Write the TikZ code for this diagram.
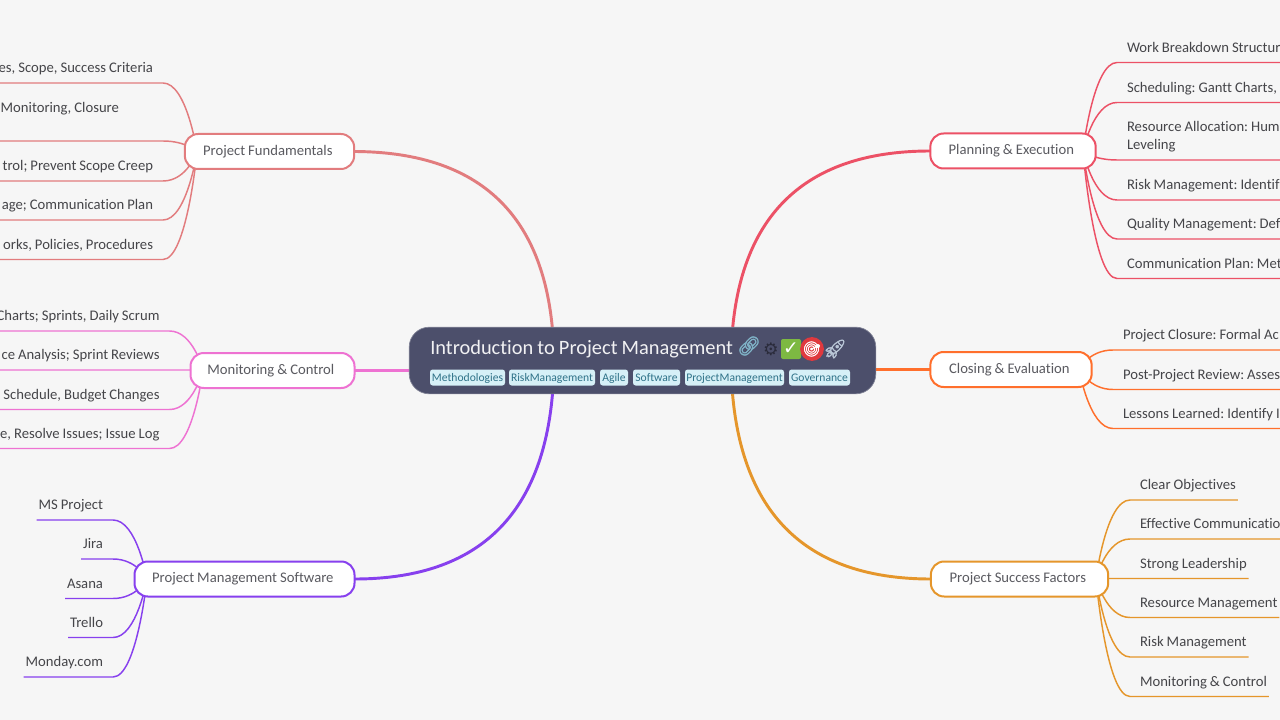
\documentclass[tikz,border=0pt]{standalone}
\usepackage{fontspec}
\setmainfont[Ligatures=NoCommon,WordSpace=0.9]{Carlito}
\newfontfamily\emojifont[FakeBold=2]{Noto Emoji}
\newfontfamily\dejavu{DejaVu Sans}
\usetikzlibrary{backgrounds,calc}
\definecolor{pagebg}{HTML}{F6F6F6}
\definecolor{rootfill}{HTML}{4C4F6B}
\definecolor{tagfill}{HTML}{D6F0F7}
\definecolor{tagtext}{HTML}{2F7288}
\definecolor{inktext}{HTML}{454549}
\definecolor{boxtext}{HTML}{5A5A60}
\definecolor{fundcol}{HTML}{E27C7E}
\definecolor{plancol}{HTML}{EC5166}
\definecolor{closecol}{HTML}{FF6F2C}
\definecolor{succcol}{HTML}{E5962B}
\definecolor{softcol}{HTML}{8740EE}
\definecolor{moncol}{HTML}{EE72D2}
\definecolor{linkcol}{HTML}{7FB2C6}
\definecolor{checkcol}{HTML}{7DB942}
\definecolor{targetcol}{HTML}{E0393E}
\definecolor{rocketcol}{HTML}{B9C6D6}
\tikzset{
  textfont/.style={font=\frenchspacing\fontsize{11}{13.5}\selectfont},
  branchbox/.style={draw=#1, line width=1.5pt, fill=white, rounded corners=10pt, text=boxtext,
    textfont, minimum height=26.25pt, inner sep=0pt, outer sep=0pt, execute at begin node=\strut,
    execute at end node=\hspace*{2.5pt}},
  leafleft/.style={anchor=south east, textfont, text=inktext, inner xsep=0pt, inner ysep=3.7pt,
    outer sep=0pt, align=right, execute at begin node=\strut},
  leafright/.style={anchor=south west, textfont, text=inktext, inner xsep=0pt, inner ysep=3.7pt,
    outer sep=0pt, align=left, execute at begin node=\strut},
  tagbox/.style={fill=tagfill, text=tagtext, rounded corners=2pt, font=\fontsize{8.7}{10}\selectfont,
    inner sep=0pt, minimum height=12pt, text height=7.4pt, text depth=1.2pt, outer sep=0pt},
  emoji/.style={font=\emojifont\fontsize{14}{15}\selectfont, inner sep=0pt},
  mainline/.style={draw=#1, line width=2.2pt},
  subline/.style={draw=#1, line width=1.1pt},
  leaflink/.style={to path={.. controls (\tikztostart) and ($(\tikztotarget)!0.7!(\tikztostart |- \tikztotarget)$) .. (\tikztotarget)}}
}
\begin{document}
\begin{tikzpicture}[x=0.75pt,y=-0.75pt]
\useasboundingbox (0,0) rectangle (1280,720);
\coordinate (edgeL) at (0,0);
\coordinate (edgeR) at (1280,0);
% centre
\node[fill=rootfill, draw=rootfill!70!white, line width=0.5pt, rounded corners=15pt, minimum width=350pt, minimum height=50pt, inner sep=0pt] (root) at (642.5,360.5) {};
\node[anchor=west, text=white!92!rootfill, font=\fontsize{15.3}{18}\selectfont, inner sep=0pt] (title) at (430,349) {Introduction to Project Management};
\node[emoji, text=linkcol] (link) at (749,346) {🔗};
\node[inner sep=0pt, text=black!45!rootfill, font=\dejavu\fontsize{13}{14}\selectfont] (gear) at (771,349) {⚙};
\node[fill=checkcol, text=white, rounded corners=1.5pt, minimum size=15pt, inner sep=0pt, font=\dejavu\bfseries\fontsize{14}{14}\selectfont] (check) at (791,349) {✓};
\node[emoji, circle, fill=targetcol, text=white, minimum size=14pt, font=\emojifont\fontsize{11}{12}\selectfont] (target) at (812,349) {🎯};
\node[emoji, text=rocketcol] (rocket) at (835,349) {🚀};
\node[tagbox, minimum width=56.25pt] (tag1) at (467.5,377.5) {Methodologies};
\node[tagbox, minimum width=64.5pt] (tag2) at (552,377.5) {RiskManagement};
\node[tagbox, minimum width=21pt] (tag3) at (614,377.5) {Agile};
\node[tagbox, minimum width=35.25pt] (tag4) at (656.5,377.5) {Software};
\node[tagbox, minimum width=74.25pt] (tag5) at (734.5,377.5) {ProjectManagement};
\node[tagbox, minimum width=45.75pt] (tag6) at (819.5,377.5) {Governance};
% branches
\node[branchbox=fundcol, minimum width=127pt] (fund) at (269.5,151.5) {Project Fundamentals};
\node[branchbox=moncol, minimum width=123pt] (mon) at (272.5,370.5) {Monitoring \& Control};
\node[branchbox=softcol, minimum width=165pt] (soft) at (244.5,579) {Project Management Software};
\node[branchbox=plancol, minimum width=124pt] (plan) at (1013,151) {Planning \& Execution};
\node[branchbox=closecol, minimum width=121pt] (close) at (1011,369.5) {Closing \& Evaluation};
\node[branchbox=succcol, minimum width=133pt] (succ) at (1019.5,579) {Project Success Factors};
% leaves, left
\node[leafleft] (fund1) at (153,83) {es, Scope, Success Criteria};
\node[leafleft] (fund2) at (119,141) {Monitoring, Closure\\\strut};
\node[leafleft] (fund3) at (153,181) {trol; Prevent Scope Creep};
\node[leafleft] (fund4) at (153,220) {age; Communication Plan};
\node[leafleft] (fund5) at (153,259.5) {orks, Policies, Procedures};
\node[leafleft] (mon1) at (159.5,331) {Charts; Sprints, Daily Scrum};
\node[leafleft] (mon2) at (159.5,370) {ce Analysis; Sprint Reviews};
\node[leafleft] (mon3) at (159.5,409.5) {Schedule, Budget Changes};
\node[leafleft] (mon4) at (159.5,448.5) {e, Resolve Issues; Issue Log};
\node[leafleft] (soft1) at (103,520) {MS Project};
\node[leafleft] (soft2) at (103,559) {Jira};
\node[leafleft] (soft3) at (103,598.5) {Asana};
\node[leafleft] (soft4) at (103,637.5) {Trello};
\node[leafleft] (soft5) at (103,677) {Monday.com};
% leaves, right
\node[leafright] (plan1) at (1127,62.5) {Work Breakdown Structur};
\node[leafright] (plan2) at (1127,102.5) {Scheduling: Gantt Charts,};
\node[leafright] (plan3) at (1127,160) {Resource Allocation: Hum\\Leveling\strut};
\node[leafright] (plan4) at (1127,200) {Risk Management: Identif};
\node[leafright] (plan5) at (1127,239) {Quality Management: Def};
\node[leafright] (plan6) at (1127,278.5) {Communication Plan: Met};
\node[leafright] (close1) at (1123,350) {Project Closure: Formal Ac};
\node[leafright] (close2) at (1123,389.5) {Post-Project Review: Asses};
\node[leafright] (close3) at (1123,428.5) {Lessons Learned: Identify I};
\node[leafright] (succ1) at (1140,500) {Clear Objectives};
\node[leafright] (succ2) at (1140,539) {Effective Communicatio};
\node[leafright] (succ3) at (1140,578.5) {Strong Leadership};
\node[leafright] (succ4) at (1140,617.5) {Resource Management};
\node[leafright] (succ5) at (1140,657) {Risk Management};
\node[leafright] (succ6) at (1140,696.5) {Monitoring \& Control};
% where the branches leave their boxes
\coordinate (fundsrc) at (197,152);
\coordinate (monsrc) at (203,370);
\coordinate (softsrc) at (147,579);
\coordinate (plansrc) at (1083,151);
\coordinate (closesrc) at (1079,369);
\coordinate (succsrc) at (1096,578.5);
\coordinate (rootnw) at (554,361);
\coordinate (rootne) at (731,361);
\coordinate (rootsw) at (554,361);
\coordinate (rootse) at (731,361);
\begin{scope}[on background layer]
\fill[pagebg] (0,0) rectangle (1280,720);
\draw[mainline=fundcol] (rootnw) .. controls (552.7,221.7) and (486.3,152) .. (fund.east);
\draw[mainline=plancol] (rootne) .. controls (732.3,221) and (799.3,151) .. (plan.west);
\draw[mainline=softcol] (rootsw) .. controls (552.7,506.3) and (486.3,579) .. (soft.east);
\draw[mainline=succcol] (rootse) .. controls (732.3,506.3) and (799.3,579) .. (succ.west);
\draw[mainline=moncol] (root.west |- mon.east) -- (mon.east);
\draw[mainline=closecol] (root.east |- close.west) -- (close.west);
\foreach \n in {1,...,5}
  \draw[subline=fundcol] (fundsrc) to[leaflink] (153+10,0 |- fund\n.south) -- (edgeL |- fund\n.south);
\foreach \n in {1,...,4}
  \draw[subline=moncol] (monsrc) to[leaflink] (159.5+10,0 |- mon\n.south) -- (edgeL |- mon\n.south);
\foreach \n in {1,...,5}
  \draw[subline=softcol] (softsrc) to[leaflink] ([xshift=7.5pt]soft\n.south east) -- ([xshift=-1.5pt]soft\n.south west);
\foreach \n in {1,...,6}
  \draw[subline=plancol] (plansrc) to[leaflink] ([xshift=-7.5pt]plan\n.south west) -- (edgeR |- plan\n.south);
\foreach \n in {1,2,3}
  \draw[subline=closecol] (closesrc) to[leaflink] ([xshift=-7.5pt]close\n.south west) -- (edgeR |- close\n.south);
\foreach \n in {1,...,6}
  \draw[subline=succcol] (succsrc) to[leaflink] ([xshift=-7.5pt]succ\n.south west) -- ([xshift=1.5pt]succ\n.south east);
\end{scope}
\end{tikzpicture}
\end{document}
